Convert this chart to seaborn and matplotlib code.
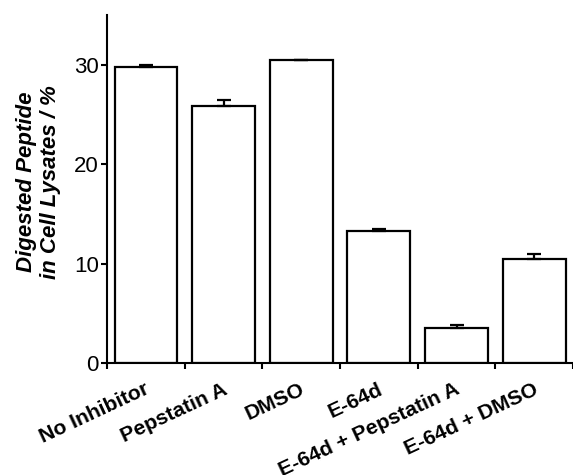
import numpy as np
import pandas as pd
import matplotlib
matplotlib.use("Agg")
import matplotlib.pyplot as plt
import seaborn as sns

categorias = ["No Inhibitor", "Pepstatin A", "DMSO", "E-64d",
              "E-64d + Pepstatin A", "E-64d + DMSO"]
valores = [29.8, 25.9, 30.5, 13.3, 3.55, 10.5]
erros = [0.2, 0.6, 0.0, 0.15, 0.25, 0.45]

sns.set_theme(style="ticks")
plt.rcParams["font.family"] = ["Liberation Sans", "DejaVu Sans"]
plt.rcParams["text.color"] = "black"
plt.rcParams["axes.labelcolor"] = "black"
plt.rcParams["xtick.color"] = "black"
plt.rcParams["ytick.color"] = "black"

df = pd.DataFrame({"cat": categorias, "valor": valores})

fig = plt.figure(figsize=(5.73, 4.75), dpi=100)
ax = fig.add_axes([0.187, 0.236, 0.813, 0.732])

sns.barplot(data=df, x="cat", y="valor", color="white", edgecolor="black",
            linewidth=1.6, width=0.81, ax=ax, errorbar=None, zorder=2)
for p in ax.patches:
    p.set_facecolor("white")

x = np.arange(len(categorias))
ax.errorbar(x, valores, yerr=[np.zeros(len(erros)), erros], fmt="none",
            ecolor="black", elinewidth=1.6, capsize=5, capthick=1.6, zorder=3)

ax.set_xlim(-0.5, len(categorias) - 0.5)
ax.set_ylim(0, 35)
ax.set_yticks([0, 10, 20, 30])
ax.set_xticks(np.arange(len(categorias) + 1) - 0.5)
ax.set_xticklabels([])
ax.tick_params(axis="x", length=4, width=1.5, direction="out")
ax.tick_params(axis="y", length=4, width=1.5, direction="out", labelsize=16, pad=2)

for xi, lab in zip(x, categorias):
    ax.text(xi - 0.02, -1.7, lab, rotation=25, ha="right", va="top",
            rotation_mode="anchor", fontsize=15.2, fontweight="bold")

ax.set_xlabel("")
ax.set_ylabel("Digested Peptide\nin Cell Lysates / %", fontsize=16,
              fontweight="bold", fontstyle="italic", linespacing=1.15)
ax.yaxis.set_label_coords(-0.10, 0.52)

sns.despine(ax=ax)
for s in ["left", "bottom"]:
    ax.spines[s].set_linewidth(1.5)
    ax.spines[s].set_color("black")

fig.savefig("out.png", dpi=100)
